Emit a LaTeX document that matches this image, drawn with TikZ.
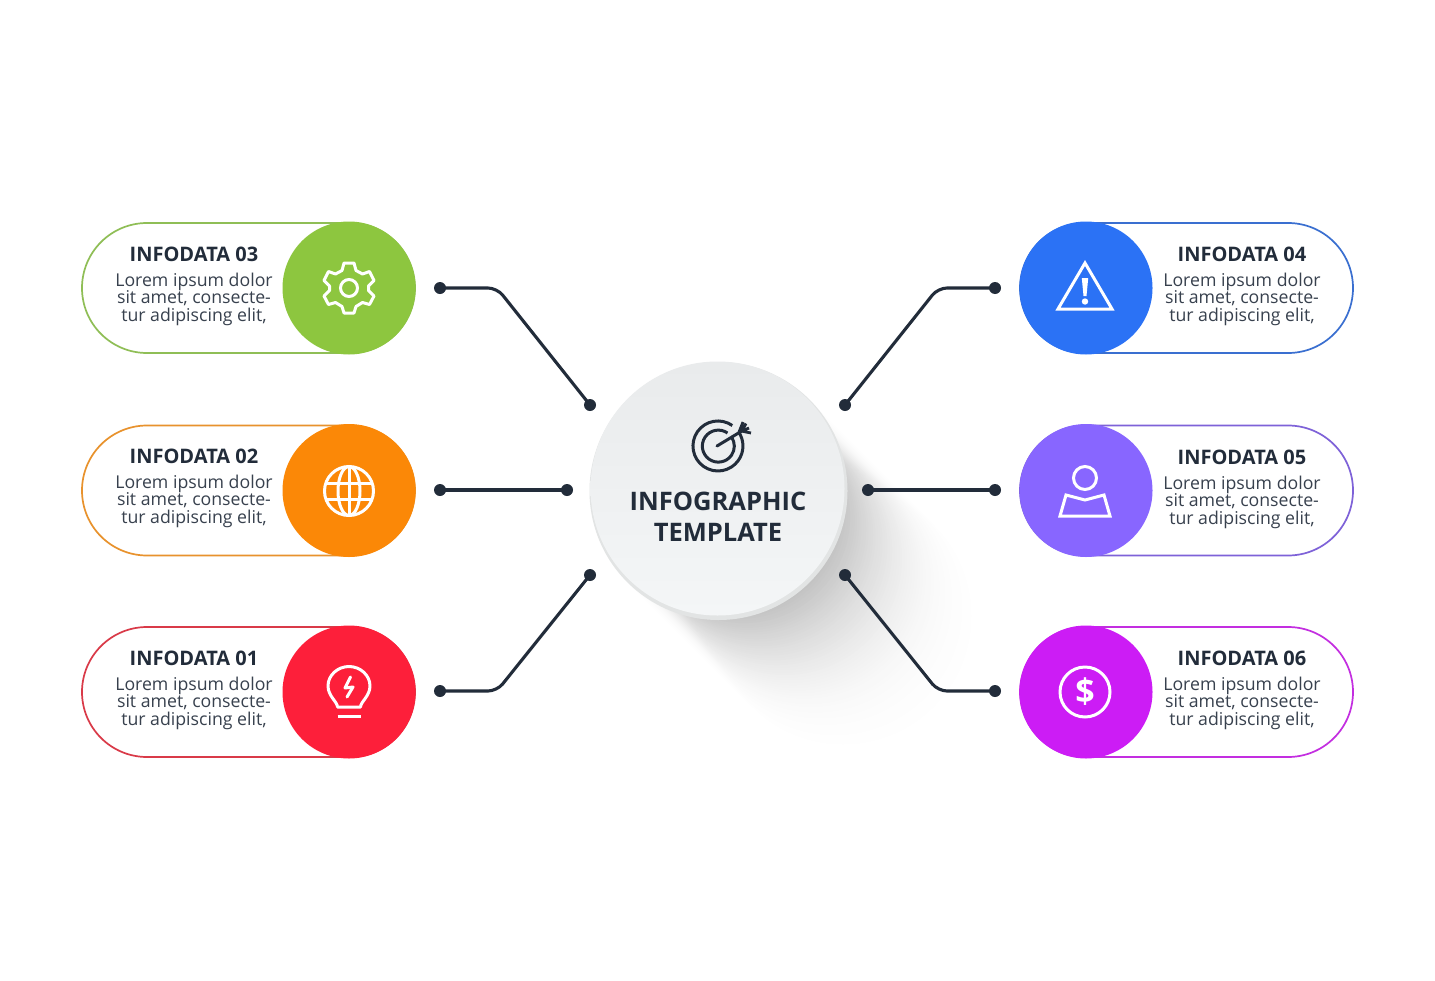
\documentclass[tikz,border=0pt]{standalone}
\usepackage{fontspec}
\setmainfont{Open Sans}
\definecolor{ink}{HTML}{222C3A}
\definecolor{cgreen}{HTML}{8DC63F}\definecolor{lgreen}{HTML}{8FBE56}
\definecolor{corange}{HTML}{FB8807}\definecolor{lorange}{HTML}{E8922D}
\definecolor{cred}{HTML}{FD1F3A}\definecolor{lred}{HTML}{D93A48}
\definecolor{cblue}{HTML}{2B72F5}\definecolor{lblue}{HTML}{3A6FD0}
\definecolor{cpurple}{HTML}{8866FF}\definecolor{lpurple}{HTML}{7E62D8}
\definecolor{cmag}{HTML}{CC1CF5}\definecolor{lmag}{HTML}{C32EE0}
\definecolor{hubtop}{HTML}{E9EBEC}\definecolor{hubbot}{HTML}{F4F6F7}\definecolor{hubedge}{HTML}{E2E4E4}
\tikzset{
  pill/.style={draw=#1,line width=1.7pt,fill=white,rectangle,rounded corners=65pt,minimum width=333pt,minimum height=130pt,inner sep=0pt},
  disc/.style={fill=#1,circle,minimum size=133pt,inner sep=0pt},
  dotnode/.style={fill=ink,circle,minimum size=12pt,inner sep=0pt},
  link/.style={draw=ink,line width=3.1pt,rounded corners=9pt},
  ttl/.style={font=\bfseries\fontsize{20}{24}\selectfont,text=ink,inner sep=0pt},
  body/.style={font=\fontsize{17.7}{17.6}\selectfont,text=ink!90,align=center,inner sep=0pt},
  big/.style={font=\bfseries\fontsize{25.5}{31}\selectfont,text=ink,align=center,inner sep=0pt},
  ico/.style={draw=white,line width=3pt,line join=miter},
  tgt/.style={draw=ink,line width=3pt},
}
\newcommand{\loremtext}{Lorem ipsum dolor\\sit amet, consecte-\\tur adipiscing elit,}
\begin{document}
\begin{tikzpicture}[x=1pt,y=-1pt]
\useasboundingbox (0,0) rectangle (1435,980);
\fill[white] (0,0) rectangle (1435,980);
% long soft shadow: opaque layers, lightest and longest first
\foreach \j in {0,...,50}{
  \pgfmathsetmacro{\t}{\j/50}
  \pgfmathsetmacro{\shpct}{0.5+24*pow(\t,1.7)}
  \pgfmathsetmacro{\shlen}{125-108*pow(\t,0.8)}
  \pgfmathsetmacro{\shrad}{128-24*\t}
  \draw[black!\shpct!white,line cap=round,line width={2*\shrad*1pt}] (718,491) -- ({718+\shlen},{491+\shlen});
}
% pills
\node[pill=lgreen]  (p3) at (248.5,288) {};
\node[pill=lorange] (p2) at (248.5,490.5) {};
\node[pill=lred]    (p1) at (248.5,692) {};
\node[pill=lblue]   (p4) at (1186.5,288) {};
\node[pill=lpurple] (p5) at (1186.5,490.5) {};
\node[pill=lmag]    (p6) at (1186.5,692) {};
\node[disc=cgreen]  (d3) at (349,288) {};
\node[disc=corange] (d2) at (349,490.5) {};
\node[disc=cred]    (d1) at (349,692) {};
\node[disc=cblue]   (d4) at (1086,288) {};
\node[disc=cpurple] (d5) at (1086,490.5) {};
\node[disc=cmag]    (d6) at (1086,692) {};
% texts
\node[ttl] (t3) at (194,254.5) {INFODATA 03};
\node[ttl] (t2) at (194,456.5) {INFODATA 02};
\node[ttl] (t1) at (194,658.5) {INFODATA 01};
\node[ttl] (t4) at (1242,254.5) {INFODATA 04};
\node[ttl] (t5) at (1242,457.5) {INFODATA 05};
\node[ttl] (t6) at (1242,658.5) {INFODATA 06};
\node[body] (b3) at (194,299) {\loremtext};
\node[body] (b2) at (194,501) {\loremtext};
\node[body] (b1) at (194,703) {\loremtext};
\node[body] (b4) at (1242,299) {\loremtext};
\node[body] (b5) at (1242,502) {\loremtext};
\node[body] (b6) at (1242,703) {\loremtext};
% connectors
\node[dotnode] (a3) at (440,288) {};
\node[dotnode] (c3) at (590,405) {};
\node[dotnode] (a2) at (440,490) {};
\node[dotnode] (c2) at (567,490) {};
\node[dotnode] (a1) at (440,691) {};
\node[dotnode] (c1) at (590,575) {};
\node[dotnode] (a4) at (995,288) {};
\node[dotnode] (c4) at (845,405) {};
\node[dotnode] (a5) at (995,490) {};
\node[dotnode] (c5) at (868,490) {};
\node[dotnode] (a6) at (995,691) {};
\node[dotnode] (c6) at (845,575) {};
\coordinate (k3) at (497,288);
\coordinate (k1) at (497,691);
\coordinate (k4) at (938,288);
\coordinate (k6) at (938,691);
\draw[link] (a3.center) -- (k3) -- (c3.center);
\draw[link] (a2.center) -- (c2.center);
\draw[link] (a1.center) -- (k1) -- (c1.center);
\draw[link] (a4.center) -- (k4) -- (c4.center);
\draw[link] (a5.center) -- (c5.center);
\draw[link] (a6.center) -- (k6) -- (c6.center);
% centre disc
\node[circle,fill=hubedge,minimum size=258pt,inner sep=0pt] (hubbase) at (718.5,491) {};
\node[circle,minimum size=254pt,inner sep=0pt,top color=hubtop,bottom color=hubbot] (hub) at (717.5,488.5) {};
\node[big] (hubtext) at (718,516.5) {INFOGRAPHIC\\[-0.5pt]TEMPLATE};
% target icon
\draw[tgt] (732.3,425.5) arc[start angle=-55,end angle=-395,radius=25];
\draw[tgt] (727.5,433) arc[start angle=-55,end angle=-395,radius=16];
\draw[tgt,line cap=round] (717,446) -- (741,431.5);
\draw[tgt,line width=2.8pt] (739,432) -- (743,422) (742,431) -- (746,423.5) (741,431) -- (751,433) (741,431.5) -- (749,428);
% gear
\begin{scope}[shift={(349,288)}]
\draw[ico,line join=round] (-5,-25) -- (5,-25) -- (7,-17.5) -- (13.5,-14) -- (20.5,-16.5) -- (25,-7.5) -- (19.5,-2) -- (19.5,2.5) -- (25,8) -- (20.5,16.5) -- (13.5,14.5) -- (7,18.5) -- (5,25) -- (-5,25) -- (-7,18.5) -- (-13.5,14.5) -- (-20.5,16.5) -- (-25,8) -- (-19.5,2.5) -- (-19.5,-2) -- (-25,-7.5) -- (-20.5,-16.5) -- (-13.5,-14) -- (-7,-17.5) -- cycle;
\draw[ico] (0,0) circle[radius=8.5];
\end{scope}
% globe
\begin{scope}[shift={(349,491)}]
\draw[ico] (0,0) circle[radius=24.5];
\draw[ico] (0,0) ellipse[x radius=11,y radius=24.5];
\draw[ico] (0,-24.5) -- (0,24.5);
\draw[ico] (-22,-8) -- (22,-8) (-22,8) -- (22,8);
\end{scope}
% bulb
\begin{scope}[shift={(349,687)}]
\draw[ico,line join=round] (-11.5,20) .. controls (-11.5,15) and (-21,9) .. (-21,-1) .. controls (-21,-12) and (-11,-20.5) .. (0,-20.5) .. controls (11,-20.5) and (21,-12) .. (21,-1) .. controls (21,9) and (11.5,15) .. (11.5,20) -- cycle;
\draw[ico] (-11.5,29) -- (11.5,29);
\draw[ico,line join=round,line cap=round] (1.5,-10) -- (-4,1) -- (4,0) -- (-2,10);
\end{scope}
% warning
\draw[ico] (1085,263) -- (1112,309) -- (1058,309) -- cycle;
\fill[white] (1081.8,278) -- (1088.2,278) -- (1086.5,296) -- (1083.5,296) -- cycle;
\fill[white] (1085,301.5) circle[radius=3.2];
% map pin
\draw[ico] (1085,478) circle[radius=11.5];
\draw[ico] (1066,495) -- (1085,500) -- (1104,495) -- (1110,516) -- (1060,516) -- cycle;
% dollar
\draw[ico] (1085,692) circle[radius=25];
\node[font=\bfseries\fontsize{34}{34}\selectfont,text=white,inner sep=0pt] (dollar) at (1085,691.5) {\$};
\end{tikzpicture}
\end{document}
